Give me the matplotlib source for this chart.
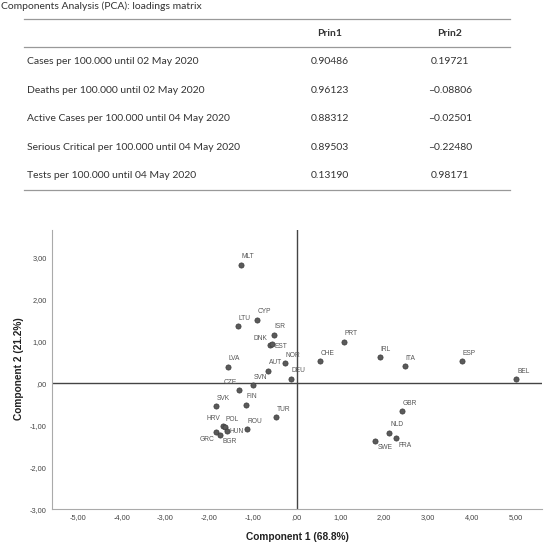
import matplotlib.pyplot as plt
from matplotlib.lines import Line2D
from matplotlib.ticker import FuncFormatter, MultipleLocator

# loadings table
row_names = ["Cases per 100.000 until 02 May 2020",
             "Deaths per 100.000 until 02 May 2020",
             "Active Cases per 100.000 until 04 May 2020",
             "Serious Critical per 100.000 until 04 May 2020",
             "Tests per 100.000 until 04 May 2020"]
col_names = ["Prin1", "Prin2"]
prin1 = ["0.90486", "0.96123", "0.88312", "0.89503", "0.13190"]
prin2 = ["0.19721", "\u20130.08806", "\u20130.02501", "\u20130.22480", "0.98171"]

# component scores per country
countries = ["MLT", "CYP", "LTU", "ISR", "DNK", "EST", "AUT", "NOR", "DEU", "LVA",
             "SVN", "CZE", "SVK", "FIN", "TUR", "HRV", "POL", "HUN", "GRC", "BGR",
             "ROU", "CHE", "PRT", "IRL", "ITA", "ESP", "BEL", "GBR", "NLD", "FRA", "SWE"]
comp1 = [-1.28, -0.91, -1.35, -0.53, -0.61, -0.56, -0.66, -0.27, -0.14, -1.58,
         -1.01, -1.32, -1.85, -1.16, -0.47, -1.68, -1.65, -1.60, -1.84, -1.75,
         -1.14, 0.53, 1.08, 1.90, 2.47, 3.77, 5.02, 2.40, 2.11, 2.28, 1.80]
comp2 = [2.83, 1.52, 1.37, 1.16, 0.92, 0.94, 0.30, 0.48, 0.11, 0.40,
         -0.04, -0.15, -0.54, -0.51, -0.80, -1.01, -1.04, -1.13, -1.16, -1.22,
         -1.09, 0.53, 0.99, 0.63, 0.41, 0.53, 0.10, -0.66, -1.18, -1.31, -1.37]

# label placement (pixels offset, alignment); default is above-right
label_pos = {"DNK": (-3, 6, "right"), "EST": (2, -2, "left"), "CZE": (-2, 7, "right"),
             "HRV": (-3, 7, "right"), "HUN": (3, -1, "left"), "GRC": (-2, -7, "right"),
             "BGR": (2, -7, "left"), "SWE": (2, -7, "left"), "FRA": (2, -7, "left")}

W = 552.0


def fx(px):
    return px / W


def fy(py):
    return 1 - py / W


def sps_fmt(v, pos):
    s = "%.2f" % v
    s = s.replace(".", ",")
    if s.startswith("0,"):
        s = s[1:]
    if s.startswith("-0,"):
        s = "-" + s[2:]
    return s


fig = plt.figure(figsize=(5.52, 5.52), dpi=100)

# ---- table ----
tf = "Lato"
fig.text(fx(1), fy(1), "Components Analysis (PCA): loadings matrix", ha="left",
         va="top", fontsize=7.5, family=tf, color="#333333")
for yl in [19, 47, 190]:
    fig.add_artist(Line2D([fx(24), fx(510)], [fy(yl), fy(yl)], color="#999999", lw=0.9))
fig.text(fx(330), fy(33), col_names[0], ha="center", va="center", fontsize=7.5,
         family=tf, weight="bold", color="#333333")
fig.text(fx(450), fy(33), col_names[1], ha="center", va="center", fontsize=7.5,
         family=tf, weight="bold", color="#333333")
row_y = [61, 90, 118, 147, 175]
for i in range(len(row_names)):
    fig.text(fx(27), fy(row_y[i]), row_names[i], ha="left", va="center", fontsize=7.5,
             family=tf, color="#333333")
    fig.text(fx(330), fy(row_y[i]), prin1[i], ha="center", va="center", fontsize=7.5,
             family=tf, color="#333333")
    fig.text(fx(450), fy(row_y[i]), prin2[i], ha="center", va="center", fontsize=7.5,
             family=tf, color="#333333")

# ---- scatter ----
ax = fig.add_axes([fx(51.7), fy(509.3), fx(541.7 - 51.7), (509.3 - 230) / W])
ax.set_xlim(-5.6, 5.6)
ax.set_ylim(-3, 3.66)
ax.axhline(0, color="#444444", lw=1.0, zorder=1)
ax.axvline(0, color="#444444", lw=1.0, zorder=1)
ax.scatter(comp1, comp2, s=14, color="#5a5a5a", edgecolors="#3a3a3a", linewidths=0.5, zorder=3)
for i, c in enumerate(countries):
    dx, dy, ha = label_pos.get(c, (1, 8, "left"))
    ax.annotate(c, (comp1[i], comp2[i]), xytext=(dx, dy), textcoords="offset pixels",
                ha=ha, va="center", fontsize=4.8, family="Liberation Sans", color="#555555")

ax.xaxis.set_major_locator(MultipleLocator(1))
ax.yaxis.set_major_locator(MultipleLocator(1))
ax.xaxis.set_major_formatter(FuncFormatter(sps_fmt))
ax.yaxis.set_major_formatter(FuncFormatter(sps_fmt))
ax.tick_params(length=0, labelsize=5.3, labelcolor="#444444", pad=3.5)
for lab in ax.get_xticklabels() + ax.get_yticklabels():
    lab.set_family("Liberation Sans")
ax.spines["top"].set_visible(False)
ax.spines["right"].set_visible(False)
ax.spines["left"].set_color("#aaaaaa")
ax.spines["bottom"].set_color("#aaaaaa")

fig.text(fx(297), fy(537), "Component 1 (68.8%)", ha="center", va="center",
         fontsize=7.3, weight="bold", family="Liberation Sans", color="#222222")
fig.text(fx(19), fy(369), "Component 2 (21.2%)", ha="center", va="center", rotation=90,
         fontsize=7.3, weight="bold", family="Liberation Sans", color="#222222")

fig.savefig("out.png", dpi=100)
